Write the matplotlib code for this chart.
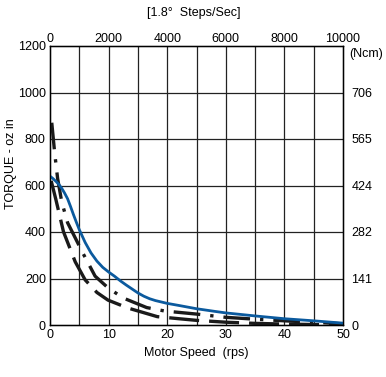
import matplotlib
matplotlib.use("Agg")
import matplotlib.pyplot as plt
import numpy as np

plt.rcParams['font.family'] = ['Liberation Sans', 'DejaVu Sans']

# Data (speed in rps, torque in oz-in)
blue_speed = [0, 0.5, 1, 1.5, 2, 2.5, 3, 3.5, 4, 4.5, 5, 6, 7, 8, 9, 10, 11, 12, 13, 14, 15, 16, 17, 18, 20,
              22, 25, 28, 30, 35, 40, 45, 50]
blue_torque = [640, 630, 618, 605, 588, 567, 543, 510, 475, 442, 410, 355, 310, 275, 248, 228, 210, 190, 172,
               155, 138, 124, 113, 105, 93, 84, 70, 59, 52, 39, 27, 18, 8]

upper_speed = [0.3, 0.8, 1.3, 2, 3, 4.3, 5.7, 7.7, 9.9, 12.5, 16.5, 19.6, 25, 30, 35, 40, 45, 50]
upper_torque = [870, 740, 630, 530, 440, 375, 305, 210, 160, 116, 75, 60, 47, 33, 25, 18, 12, 5]

lower_speed = [0.2, 1, 2.3, 4.3, 6, 8, 9.9, 13.3, 18.3, 22, 25, 30, 35, 40, 45, 50]
lower_torque = [620, 540, 401, 272, 194, 140, 107, 73, 36, 27, 20, 12, 7, 4, 2, 0]

y_ticks = [0, 200, 400, 600, 800, 1000, 1200]
ncm_labels = ["0", "141", "282", "424", "565", "706"]
step_ticks = [0, 2000, 4000, 6000, 8000, 10000]
x_ticks = [0, 10, 20, 30, 40, 50]

fig = plt.figure(figsize=(3.86, 3.77), dpi=100)
ax = fig.add_axes([50/386, 1-325/377, 293/386, 279/377])

ax.set_xlim(0, 50)
ax.set_ylim(0, 1200)
for x in np.arange(5, 50, 5):
    ax.axvline(x, color='#222222', lw=0.9, zorder=1)
for y in y_ticks[1:-1]:
    ax.axhline(y, color='#222222', lw=0.9, zorder=1)

ax.plot(lower_speed, lower_torque, color='#1a1a1a', lw=2.4, dashes=(9, 3), zorder=3)
ax.plot(upper_speed, upper_torque, color='#1a1a1a', lw=2.4, dashes=(8, 3, 1, 3), zorder=3)
ax.plot(blue_speed, blue_torque, color='#0b5a9e', lw=2.0, zorder=4)

for s in ax.spines.values():
    s.set_color('#111111')
    s.set_linewidth(1.0)

fs = 9
ax.set_xticks(x_ticks)
ax.set_xticklabels([str(v) for v in x_ticks], fontsize=fs)
ax.set_yticks(y_ticks)
ax.set_yticklabels([str(v) for v in y_ticks], fontsize=fs)
ax.tick_params(length=0, pad=3)
ax.set_xlabel("Motor Speed  (rps)", fontsize=fs, labelpad=4)
fig.text(11/386, 1-164/377, "TORQUE - oz in", fontsize=fs, rotation=90,
         ha='center', va='center')

# top axis: steps/sec
axt = ax.twiny()
axt.set_xlim(0, 10000)
axt.set_xticks(step_ticks)
axt.set_xticklabels([str(v) for v in step_ticks], fontsize=fs)
axt.tick_params(length=0, pad=1)
fig.text(194/386, 1-13/377, "[1.8°  Steps/Sec]", fontsize=fs, ha='center', va='center')

# right axis: Ncm
axr = ax.twinx()
axr.set_ylim(0, 1200)
axr.set_yticks(y_ticks[:-1])
axr.set_yticklabels(ncm_labels, fontsize=fs)
axr.tick_params(length=0, pad=6)
axr.text(1.02, 1190, "(Ncm)", transform=axr.get_yaxis_transform(), fontsize=fs,
         va='top', ha='left')

fig.savefig("out.png", dpi=100)
